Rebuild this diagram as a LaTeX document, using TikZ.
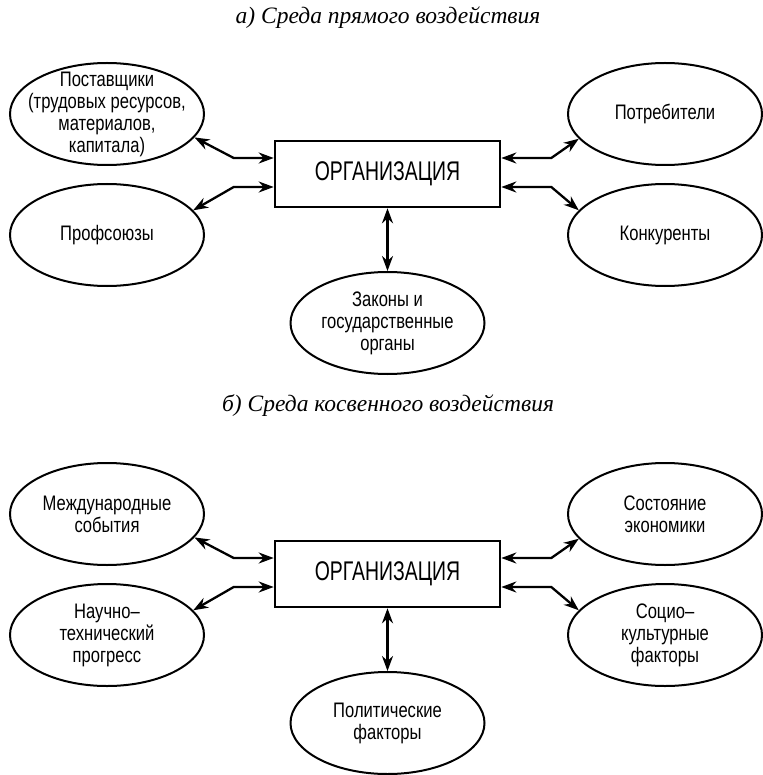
\documentclass[tikz,border=0pt]{standalone}
\usepackage{fontspec}
\setmainfont[FakeStretch=0.79]{Liberation Sans}
\newfontfamily\orgfont[FakeStretch=0.72]{Liberation Sans}
\newfontfamily\titlefont{Liberation Serif}
\usetikzlibrary{arrows.meta,shapes.geometric}
\begin{document}
\begin{tikzpicture}[x=1pt,y=-1pt,
  ell/.style={ellipse,draw,line width=2pt,minimum width=194pt,minimum height=102pt,inner sep=-40pt,align=center,font=\fontsize{21}{22}\selectfont},
  orgbox/.style={rectangle,draw,line width=2.6pt,minimum width=225pt,minimum height=66pt,inner sep=0pt,font=\orgfont\fontsize{27}{29}\selectfont},
  ttl/.style={font=\titlefont\itshape\fontsize{23.5}{26}\selectfont},
  arr/.style={line width=2.3pt,{Stealth[length=15pt,width=11pt]}-{Stealth[length=15pt,width=11pt]}}]
\useasboundingbox (0,0) rectangle (762,775);
% ---- a) ----
\node[ttl] (t1) at (388,18) {а) Среда прямого воздействия};
\node[orgbox] (o1) at (387.5,174) {ОРГАНИЗАЦИЯ};
\node[ell] (s1) at (107,114) {Поставщики\\(трудовых ресурсов,\\материалов,\\капитала)};
\node[ell] (s2) at (107,235) {Профсоюзы};
\node[ell] (s3) at (665,114) {Потребители};
\node[ell] (s4) at (665,235) {Конкуренты};
\node[ell] (s5) at (387.5,323) {Законы и\\государственные\\органы};
\draw[arr] (s1.-15) -- ([xshift=-40pt,yshift=16pt]o1.west) -- ([yshift=16pt]o1.west);
\draw[arr] (s2.16) -- ([xshift=-40pt,yshift=-13pt]o1.west) -- ([yshift=-13pt]o1.west);
\draw[arr] (s3.-164) -- ([xshift=50pt,yshift=16pt]o1.east) -- ([yshift=16pt]o1.east);
\draw[arr] (s4.164) -- ([xshift=50pt,yshift=-13pt]o1.east) -- ([yshift=-13pt]o1.east);
\draw[arr] (o1.south) -- (s5.north);
% ---- b) ----
\node[ttl] (t2) at (388,406) {б) Среда косвенного воздействия};
\node[orgbox] (o2) at (387.5,574) {ОРГАНИЗАЦИЯ};
\node[ell] (r1) at (107,514) {Международные\\события};
\node[ell] (r2) at (107,635) {Научно–\\технический\\прогресс};
\node[ell] (r3) at (665,514) {Состояние\\экономики};
\node[ell] (r4) at (665,635) {Социо–\\культурные\\факторы};
\node[ell] (r5) at (387.5,723) {Политические\\факторы};
\draw[arr] (r1.-15) -- ([xshift=-40pt,yshift=16pt]o2.west) -- ([yshift=16pt]o2.west);
\draw[arr] (r2.16) -- ([xshift=-40pt,yshift=-13pt]o2.west) -- ([yshift=-13pt]o2.west);
\draw[arr] (r3.-164) -- ([xshift=50pt,yshift=16pt]o2.east) -- ([yshift=16pt]o2.east);
\draw[arr] (r4.164) -- ([xshift=50pt,yshift=-13pt]o2.east) -- ([yshift=-13pt]o2.east);
\draw[arr] (o2.south) -- (r5.north);
\end{tikzpicture}
\end{document}
